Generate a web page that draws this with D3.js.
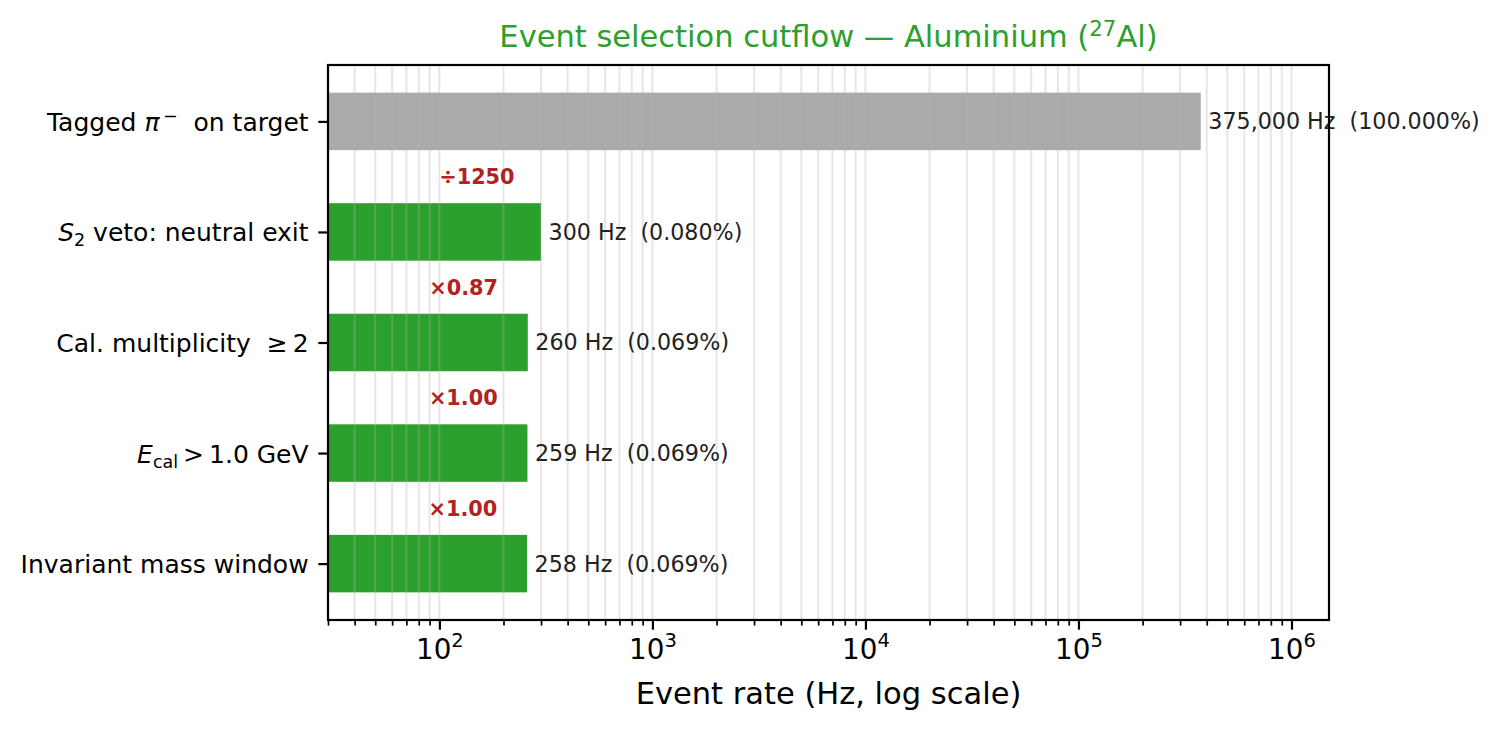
<!DOCTYPE html>
<html>
<head>
<meta charset="utf-8">
<script src="https://cdn.jsdelivr.net/npm/d3@7"></script>
<style>
  body { margin: 0; background: #fff; }
  svg { display: block; font-family: "DejaVu Sans", sans-serif; }
  text { white-space: pre; }
</style>
</head>
<body>
<svg id="chart" width="1501" height="729"></svg>
<script>
// ---- data ----
const categories = [
  "Tagged π− on target",
  "S2 veto: neutral exit",
  "Cal. multiplicity ≥ 2",
  "Ecal > 1.0 GeV",
  "Invariant mass window"
];
// rich label parts: [text, style] where style: "n" normal, "i" italic, "sub", "sup"
const categoryParts = [
  [["Tagged ", "n"], ["π", "i"], ["\u2009−", "sup"], ["  on target", "n"]],
  [["S", "i"], ["2", "sub"], [" veto: neutral exit", "n"]],
  [["Cal. multiplicity  ≥\u20092", "n"]],
  [["E", "i"], ["cal", "sub"], ["\u2009>\u20091.0 GeV", "n"]],
  [["Invariant mass window", "n"]]
];
const rates = [375000, 300, 260, 259, 258];
const barColors = ["#aaaaaa", "#2ca02c", "#2ca02c", "#2ca02c", "#2ca02c"];
const majorTicks = [100, 1000, 10000, 100000, 1000000];
const majorExponents = ["2", "3", "4", "5", "6"];
const xDomain = [30, 1.5e6];

// ---- layout ----
const svg = d3.select("#chart");
const L = 328, R = 1329, T = 65, B = 620;

const x = d3.scaleLog().domain(xDomain).range([L, R]);
const y = d3.scaleLinear().domain([-0.51, 4.51]).range([T, B]);
const barH = 0.52;

// minor ticks
const minorTicks = [];
for (let e = 1; e <= 6; e++) {
  for (let m = 2; m <= 9; m++) {
    const v = m * Math.pow(10, e);
    if (v >= xDomain[0] && v <= xDomain[1]) minorTicks.push(v);
  }
}

// bars
svg.append("g").selectAll("rect").data(rates).join("rect")
  .attr("x", x(xDomain[0]))
  .attr("y", (d, i) => y(i - barH / 2))
  .attr("width", d => x(d) - x(xDomain[0]))
  .attr("height", (d, i) => y(i + barH / 2) - y(i - barH / 2))
  .attr("fill", (d, i) => barColors[i]);

// grid (above bars, like matplotlib default)
const gridVals = majorTicks.concat(minorTicks).filter(v => v >= xDomain[0] && v <= xDomain[1]);
svg.append("g").selectAll("line").data(gridVals).join("line")
  .attr("x1", d => x(d)).attr("x2", d => x(d))
  .attr("y1", T).attr("y2", B)
  .attr("stroke", "#b0b0b0").attr("stroke-opacity", 0.32).attr("stroke-width", 2);

// value labels
const total = rates[0];
svg.append("g").selectAll("text").data(rates).join("text")
  .attr("x", d => x(d * 1.085))
  .attr("y", (d, i) => y(i))
  .attr("dy", "0.36em")
  .attr("font-size", 22.2)
  .attr("fill", "#222222")
  .text(d => d3.format(",")(d) + " Hz  (" + (d / total * 100).toFixed(3) + "%)");

// ratio labels
const ratioData = rates.slice(1).map((v, i) => ({ v, prev: rates[i], i }));
svg.append("g").selectAll("text").data(ratioData).join("text")
  .attr("x", d => x(d.v * 0.5))
  .attr("y", d => y(d.i + 0.5))
  .attr("dy", "0.36em")
  .attr("text-anchor", "middle")
  .attr("font-size", 20.8)
  .attr("font-weight", "bold")
  .attr("fill", "#b22222")
  .text(d => {
    const r = d.v / d.prev;
    return r < 0.1 ? "÷" + Math.round(1 / r) : "×" + r.toFixed(2);
  });

// x axis major
const xAxis = svg.append("g").attr("transform", `translate(0,${B})`)
  .call(d3.axisBottom(x).tickValues(majorTicks).tickSize(9.7).tickPadding(9.7).tickFormat(""));
xAxis.select(".domain").remove();
xAxis.selectAll(".tick line").attr("stroke", "#000").attr("stroke-width", 2.2);
xAxis.selectAll(".tick text").each(function(d, i) {
  const t = d3.select(this).attr("font-size", 27.8).attr("fill", "#000")
    .attr("font-family", "DejaVu Sans").attr("dy", "0.71em");
  t.append("tspan").text("10");
  t.append("tspan").attr("font-size", 19.5).attr("dy", "-0.62em").text(majorExponents[i]);
});
// minor ticks
const xMinor = svg.append("g").attr("transform", `translate(0,${B})`)
  .call(d3.axisBottom(x).tickValues(minorTicks).tickSize(5.6).tickFormat(""));
xMinor.select(".domain").remove();
xMinor.selectAll(".tick line").attr("stroke", "#000").attr("stroke-width", 1.7);

// y axis
const yAxis = svg.append("g").attr("transform", `translate(${L},0)`)
  .call(d3.axisLeft(y).tickValues(d3.range(categories.length)).tickSize(9.7).tickPadding(9.7).tickFormat(""));
yAxis.select(".domain").remove();
yAxis.selectAll(".tick line").attr("stroke", "#000").attr("stroke-width", 2.2);
yAxis.selectAll(".tick text").each(function(d, i) {
  const t = d3.select(this).attr("font-size", 25).attr("fill", "#000")
    .attr("font-family", "DejaVu Sans").attr("dy", "0.36em");
  let shift = 0;
  categoryParts[i].forEach(([txt, st]) => {
    const s = t.append("tspan").text(txt);
    if (st === "i") { s.attr("font-style", "italic"); if (shift) { s.attr("dy", -shift); shift = 0; } }
    else if (st === "sub") { s.attr("font-size", 17.5).attr("dy", 5); shift = 5; }
    else if (st === "sup") { s.attr("font-size", 17.5).attr("dy", -9); shift = -9; }
    else { if (shift) { s.attr("dy", -shift); shift = 0; } }
  });
});

// frame
svg.append("rect").attr("x", L).attr("y", T).attr("width", R - L).attr("height", B - T)
  .attr("fill", "none").attr("stroke", "#000").attr("stroke-width", 2.2);

// axis label
svg.append("text").attr("x", (L + R) / 2).attr("y", 704)
  .attr("text-anchor", "middle").attr("font-size", 30.5).attr("fill", "#000")
  .text("Event rate (Hz, log scale)");

// title
const title = svg.append("text").attr("x", (L + R) / 2).attr("y", 47)
  .attr("text-anchor", "middle").attr("font-size", 30.5).attr("fill", "#2ca02c");
title.append("tspan").text("Event selection cutflow — Aluminium (");
title.append("tspan").attr("font-size", 21.3).attr("dy", -11).text("27");
title.append("tspan").attr("dy", 11).text("Al)");
</script>
</body>
</html>
